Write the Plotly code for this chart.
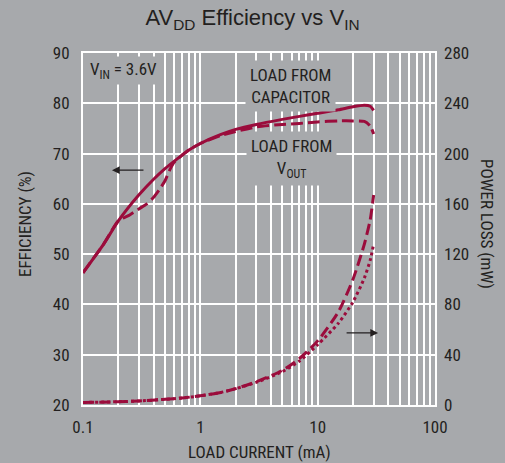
import plotly.graph_objects as go

# ---- data ----
eff_cap_x = [0.1, 0.15, 0.2, 0.3, 0.4, 0.5, 0.6, 0.7, 0.8, 1, 1.5, 2, 3, 5, 7, 10, 15, 20, 25, 28, 30]
eff_cap_y = [46.3, 52.0, 56.6, 61.8, 64.9, 67.0, 68.5, 69.7, 70.7, 72.0, 73.8, 74.8, 75.8, 76.8, 77.4, 78.0, 78.7, 79.3, 79.6, 79.4, 78.6]

eff_vout_x = [0.1, 0.15, 0.2, 0.25, 0.3, 0.35, 0.4, 0.45, 0.5, 0.55, 0.6, 0.7, 0.8, 1, 1.5, 2, 3, 5, 7, 10, 15, 20, 25, 28, 30]
eff_vout_y = [46.3, 52.0, 56.6, 57.8, 59.0, 60.0, 61.3, 62.9, 64.6, 66.8, 68.3, 69.7, 70.7, 72.0, 73.6, 74.4, 75.3, 75.8, 76.0, 76.3, 76.5, 76.5, 76.4, 75.5, 73.9]

loss_x = [0.1, 0.2, 0.3, 0.5, 0.7, 1, 1.5, 2, 3, 5, 7, 10, 15, 20, 25, 28, 30]
loss_dash_y = [2.0, 2.6, 3.2, 4.5, 5.6, 7.3, 10.0, 13.0, 18.5, 27.5, 37.0, 51.0, 74.0, 100.0, 128.0, 147.0, 167.0]
loss_dot_y = [2.0, 2.6, 3.2, 4.5, 5.6, 7.3, 10.0, 13.0, 18.0, 26.5, 35.0, 48.0, 65.0, 82.0, 101.0, 115.0, 128.0]

x_major = [0.1, 1, 10, 100]
x_major_text = ["0.1", "1", "10", "100"]
x_minor = [m * 10 ** e for e in (-1, 0, 1) for m in range(2, 10)]
eff_ticks = [20, 30, 40, 50, 60, 70, 80, 90]
loss_ticks = [0, 40, 80, 120, 160, 200, 240, 280]

# ---- style ----
BG = "#a7a9ac"
RED = "#9b0c3c"
TXT = "#231f20"
FONT = "Liberation Sans Narrow, Roboto Condensed, Liberation Sans, Arial"

fig = go.Figure()
fig.add_trace(go.Scatter(x=eff_cap_x, y=eff_cap_y, mode="lines",
                         line=dict(color=RED, width=3, shape="spline", smoothing=0.6), yaxis="y"))
fig.add_trace(go.Scatter(x=eff_vout_x, y=eff_vout_y, mode="lines",
                         line=dict(color=RED, width=3, dash="12px,5px", shape="spline", smoothing=0.6), yaxis="y"))
fig.add_trace(go.Scatter(x=loss_x, y=loss_dash_y, mode="lines",
                         line=dict(color=RED, width=3, dash="11px,5px", shape="spline", smoothing=0.6), yaxis="y2"))
fig.add_trace(go.Scatter(x=loss_x, y=loss_dot_y, mode="lines",
                         line=dict(color=RED, width=3, dash="3px,3px", shape="spline", smoothing=0.6), yaxis="y2"))

fig.update_layout(
    width=505, height=463,
    margin=dict(l=83, r=70, t=53, b=58),
    paper_bgcolor=BG, plot_bgcolor=BG,
    showlegend=False,
    font=dict(family=FONT, size=17, color=TXT),
    title=dict(text="AV<sub>DD</sub> Efficiency vs V<sub>IN</sub>", x=0.5, xanchor="center", y=0.962, yanchor="middle",
               font=dict(family="Liberation Sans, Arial", size=22, color=TXT)),
    xaxis=dict(type="log", range=[-1, 2], tickvals=x_major, ticktext=x_major_text,
               showgrid=True, gridcolor="white", gridwidth=1.5, zeroline=False,
               minor=dict(tickvals=x_minor, showgrid=True, gridcolor="white", gridwidth=1.5, ticks=""),
               showline=True, linecolor="white", linewidth=2, mirror=True, ticks="",
               ticklabelstandoff=6),
    yaxis=dict(range=[20, 90], tickvals=eff_ticks, showgrid=True, gridcolor="white", gridwidth=1.5,
               zeroline=False, showline=True, linecolor="white", linewidth=2, mirror=True, ticks="",
               ticklabelstandoff=8),
    yaxis2=dict(range=[0, 280], tickvals=loss_ticks, overlaying="y", side="right", showgrid=False,
                zeroline=False, showline=False, ticks="", ticklabelstandoff=8),
)

ann = []
ann.append(dict(text="LOAD CURRENT (mA)", xref="paper", yref="paper", x=0.5, y=(405 - 452) / 352,
                showarrow=False, xanchor="center", yanchor="middle"))
ann.append(dict(text="EFFICIENCY (%)", xref="paper", yref="paper", x=(25 - 83) / 352, y=(405 - 224) / 352,
                showarrow=False, textangle=-90, xanchor="center", yanchor="middle"))
ann.append(dict(text="POWER LOSS (mW)", xref="paper", yref="paper", x=(487 - 83) / 352, y=(405 - 224) / 352,
                showarrow=False, textangle=90, xanchor="center", yanchor="middle"))
ann.append(dict(text="V<sub>IN</sub> = 3.6V", xref="paper", yref="paper", x=(87 - 83) / 352, y=(405 - 70) / 352,
                showarrow=False, xanchor="left", yanchor="middle", bgcolor=BG, borderpad=2))
ann.append(dict(text="LOAD FROM<br>CAPACITOR", xref="paper", yref="paper", x=(290 - 83) / 352, y=(405 - 86) / 352,
                showarrow=False, xanchor="center", yanchor="middle", bgcolor=BG, borderpad=4))
ann.append(dict(text="LOAD FROM<br>V<sub>OUT</sub>", xref="paper", yref="paper", x=(291 - 83) / 352, y=(405 - 158) / 352,
                showarrow=False, xanchor="center", yanchor="middle", bgcolor=BG, borderpad=4))
# arrows
ann.append(dict(text="", x=-0.753, y=66.7, xref="x", yref="y", ax=33, ay=0, showarrow=True,
                arrowhead=2, arrowsize=1.3, arrowwidth=1.2, arrowcolor=TXT))
ann.append(dict(text="", x=1.515, y=57.3, xref="x", yref="y2", ax=-33, ay=0, showarrow=True,
                arrowhead=2, arrowsize=1.3, arrowwidth=1.2, arrowcolor=TXT))
fig.update_layout(annotations=ann)

fig.write_html("out.html", config={"displayModeBar": False},
               post_script="document.body.style.margin='0';document.body.style.background='#a7a9ac';")
